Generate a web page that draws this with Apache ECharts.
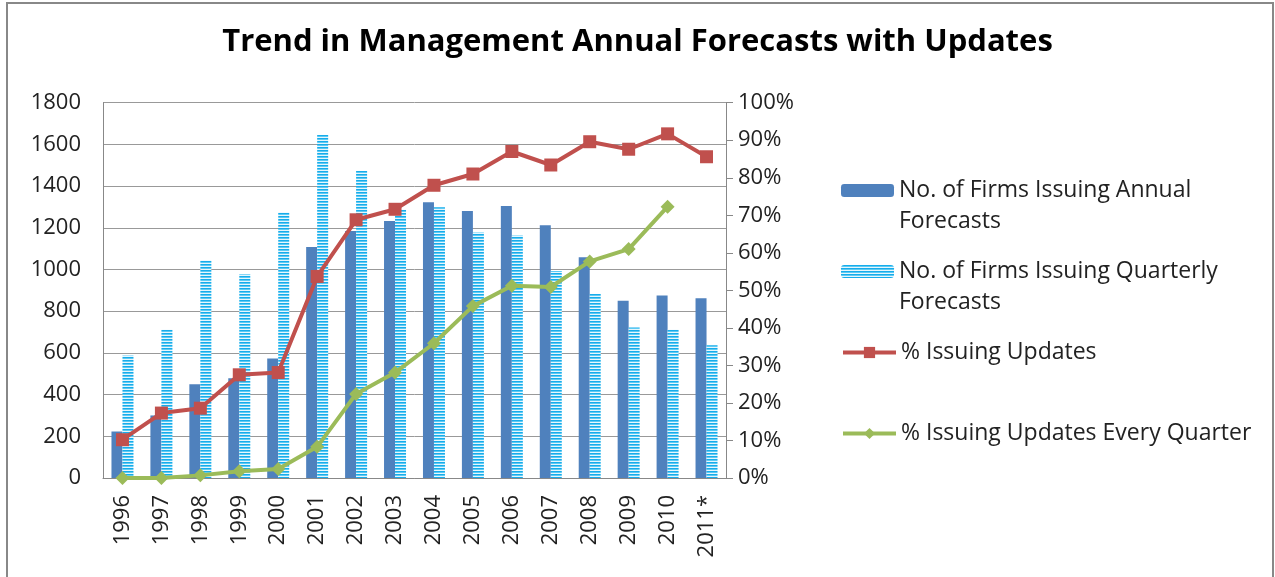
<!DOCTYPE html>
<html>
<head>
<meta charset="utf-8">
<script src="https://cdn.jsdelivr.net/npm/echarts@6/dist/echarts.min.js"></script>
<style>
html,body{margin:0;padding:0;background:#fff;}
#chart{width:1275px;height:577px;}
</style>
</head>
<body>
<div id="chart"></div>
<script>
var years = ['1996','1997','1998','1999','2000','2001','2002','2003','2004','2005','2006','2007','2008','2009','2010','2011*'];
var annualFirms = [223, 300, 450, 478, 573, 1108, 1185, 1233, 1323, 1281, 1305, 1212, 1059, 850, 875, 862];
var quarterlyFirms = [587, 711, 1043, 977, 1273, 1645, 1473, 1286, 1299, 1177, 1163, 993, 882, 722, 711, 637];
var pctUpdates = [10.2, 17.3, 18.6, 27.5, 28.1, 53.7, 68.8, 71.6, 78.0, 81.0, 87.0, 83.4, 89.6, 87.6, 91.7, 85.6];
var pctEveryQuarter = [0, 0, 0.7, 1.8, 2.4, 8.3, 22.4, 28.1, 35.9, 45.8, 51.2, 50.9, 57.7, 61.0, 72.3, null];
var leftTicks = {min: 0, max: 1800, interval: 200};
var rightTicks = {min: 0, max: 100, interval: 10};
var seriesNames = ['No. of Firms Issuing Annual Forecasts', 'No. of Firms Issuing Quarterly Forecasts', '% Issuing Updates', '% Issuing Updates Every Quarter'];
var legendLabels = {
  'No. of Firms Issuing Annual Forecasts': '\nNo. of Firms Issuing Annual\nForecasts',
  'No. of Firms Issuing Quarterly Forecasts': '\nNo. of Firms Issuing Quarterly\nForecasts'
};

var pc = document.createElement('canvas');
pc.width = 4; pc.height = 3;
var px = pc.getContext('2d');
px.fillStyle = '#17ACEB'; px.fillRect(0,0,4,1);
px.fillStyle = '#5CCAF3'; px.fillRect(0,1,4,1);
px.fillStyle = '#E6F6FD'; px.fillRect(0,2,4,1);
var stripe = {image: pc, repeat: 'repeat'};

var FONT = '"Open Sans", Lato, sans-serif';
var chart = echarts.init(document.getElementById('chart'), null, {renderer: 'canvas'});

function lg(name, top, isLine) {
  var o = {
    data: [name], left: 836, top: top, orient: 'vertical',
    itemWidth: 53, itemHeight: isLine ? 14 : 13, itemGap: 0,
    formatter: function (n) { return legendLabels[n] || n; },
    textStyle: {fontFamily: FONT, fontSize: 23, color: '#222', lineHeight: 31},
    selectedMode: false
  };
  if (isLine) o.lineStyle = {width: 4};
  return o;
}

chart.setOption({
  animation: false,
  textStyle: {fontFamily: FONT},
  title: {
    text: 'Trend in Management Annual Forecasts with Updates',
    left: 'center', top: 22,
    textStyle: {fontFamily: FONT, fontSize: 31, fontWeight: 'bold', color: '#000'}
  },
  graphic: [{
    type: 'rect', shape: {x: 7, y: 3, width: 1266, height: 590},
    style: {fill: 'none', stroke: '#888', lineWidth: 2}, silent: true
  }],
  legend: [
    lg(seriesNames[0], 139, false),
    lg(seriesNames[1], 220, false),
    lg(seriesNames[2], 332, true),
    lg(seriesNames[3], 413, true)
  ],
  grid: {left: 103, right: 549, top: 102.7, bottom: 99, containLabel: false},
  xAxis: {
    type: 'category', data: years,
    axisLine: {lineStyle: {color: '#888', width: 1}},
    axisTick: {show: false},
    axisLabel: {rotate: 90, margin: 17, fontSize: 22, color: '#222', fontFamily: FONT}
  },
  yAxis: [{
    type: 'value', min: leftTicks.min, max: leftTicks.max, interval: leftTicks.interval,
    axisLine: {show: true, lineStyle: {color: '#888'}},
    axisTick: {show: false},
    splitLine: {lineStyle: {color: '#999', width: 1}},
    axisLabel: {fontSize: 22, color: '#222', margin: 22, fontFamily: FONT,
      formatter: function (v) { return String(v); }}
  }, {
    type: 'value', min: rightTicks.min, max: rightTicks.max, interval: rightTicks.interval,
    position: 'right',
    axisLine: {show: true, lineStyle: {color: '#888'}},
    axisTick: {show: true, length: 7, lineStyle: {color: '#888'}},
    splitLine: {show: false},
    axisLabel: {fontSize: 22, color: '#222', margin: 12, formatter: '{value}%', fontFamily: FONT}
  }],
  series: [{
    name: seriesNames[0], type: 'bar', data: annualFirms, yAxisIndex: 0,
    barWidth: 11, barGap: '0%',
    itemStyle: {color: '#4F81BD'}
  }, {
    name: seriesNames[1], type: 'bar', data: quarterlyFirms, yAxisIndex: 0,
    barWidth: 11, barGap: '0%',
    itemStyle: {color: stripe}
  }, {
    name: seriesNames[2], type: 'line', data: pctUpdates, yAxisIndex: 1,
    symbol: 'rect', symbolSize: 13,
    lineStyle: {color: '#C0504D', width: 4},
    itemStyle: {color: '#C0504D'}
  }, {
    name: seriesNames[3], type: 'line', data: pctEveryQuarter, yAxisIndex: 1,
    symbol: 'diamond', symbolSize: 14,
    lineStyle: {color: '#9BBB59', width: 4},
    itemStyle: {color: '#9BBB59'}
  }]
});
</script>
</body>
</html>
